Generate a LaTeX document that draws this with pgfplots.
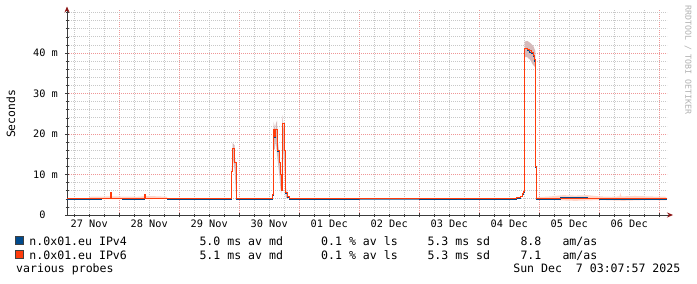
\documentclass[border=0pt]{standalone}
\usepackage{fontspec}
\setmainfont{DejaVu Sans Mono}
\usepackage{pgfplots}
\pgfplotsset{compat=1.18}
\usetikzlibrary{arrows.meta}
\definecolor{ipvfour}{RGB}{0,74,140}
\definecolor{ipvsix}{RGB}{255,60,12}
\definecolor{mgrid}{RGB}{240,150,150}
\definecolor{mingrid}{RGB}{200,200,200}
\definecolor{smoke}{RGB}{214,186,186}
\definecolor{smokeb}{RGB}{255,214,202}
\definecolor{axcol}{RGB}{60,60,60}
\definecolor{arrowcol}{RGB}{140,20,20}
\newcommand\legfont{\fontsize{11.6}{13}\selectfont}
\newcommand\tickfont{\fontsize{10.3}{12}\selectfont}
\begin{document}
\begin{tikzpicture}[x=1bp,y=1bp]
\fill[white] (0,0) rectangle (697,283);
\useasboundingbox (0,0) rectangle (697,283);
\begin{axis}[
  at={(67bp,68bp)}, anchor=south west,
  scale only axis, width=600bp, height=204.5bp,
  xmin=0.13, xmax=10.13, ymin=0, ymax=50.5,
  axis lines=left,
  axis line style={axcol, line width=1bp},
  x axis line style={-{Stealth[length=6bp,width=5bp,color=arrowcol]}, shorten >=-6bp},
  y axis line style={-{Stealth[length=6bp,width=5bp,color=arrowcol]}, shorten >=-4bp},
  tick align=center,
  major tick length=4bp, minor tick length=3bp,
  tick style={axcol, line width=0.6bp},
  xtick={1,2,3,4,5,6,7,8,9,10},
  xticklabels={},
  minor xtick={0.25,0.5,0.75,1.25,1.5,1.75,2.25,2.5,2.75,3.25,3.5,3.75,4.25,4.5,4.75,5.25,5.5,5.75,6.25,6.5,6.75,7.25,7.5,7.75,8.25,8.5,8.75,9.25,9.5,9.75,10.25},
  extra x ticks={0.5,1.5,2.5,3.5,4.5,5.5,6.5,7.5,8.5,9.5},
  extra x tick labels={27 Nov,28 Nov,29 Nov,30 Nov,01 Dec,02 Dec,03 Dec,04 Dec,05 Dec,06 Dec},
  extra x tick style={grid=none, major tick length=0pt,
    xticklabel style={font=\tickfont, anchor=base, inner sep=0pt, yshift=-12.7bp}},
  ytick={0,10,20,30,40},
  yticklabels={0\phantom{ m},10 m,20 m,30 m,40 m},
  yticklabel style={font=\tickfont, anchor=east, inner sep=0pt, xshift=-7bp},
  minor ytick={2,4,6,8,12,14,16,18,22,24,26,28,32,34,36,38,42,44,46,48,50},
  xmajorgrids, ymajorgrids, xminorgrids, yminorgrids,
  major grid style={mgrid, line width=0.8bp, dash pattern=on 1bp off 1bp},
  minor grid style={mingrid, line width=0.8bp, dash pattern=on 1bp off 1bp},
  clip=false,
]
% smoke
\addplot[fill=smokeb, draw=none] coordinates {
 (0.5,4.1) (0.5,4.5) (0.9,4.6) (1.3,4.5) (1.5,4.7) (1.8,4.5) (1.8,4.0) (1.3,3.9) (0.9,3.9) (0.5,3.9)} -- cycle;
\addplot[fill=smokeb, draw=none] coordinates {
 (7.97,3.9) (7.97,4.4) (8.2,4.6) (8.4,4.9) (8.6,4.8) (8.8,4.9) (9.0,4.6) (9.2,4.5) (9.34,4.6) (9.35,5.5) (9.37,4.6) (9.6,4.7) (9.8,4.6) (10.12,4.5)
 (10.12,3.6) (9.8,3.7) (9.4,3.5) (9.0,3.7) (8.6,3.5) (8.4,3.6) (8.2,3.8)} -- cycle;
\addplot[fill=smoke, draw=none] coordinates {
 (2.875,9.5) (2.875,11.5) (2.89,11.5) (2.89,17.8) (2.925,17.2) (2.925,14.0) (2.95,12.5)
 (2.95,4.5) (2.925,11.0) (2.89,14.5) (2.875,9.5)} -- cycle;
\addplot[fill=smoke, draw=none] coordinates {
 (3.572,17) (3.572,23) (3.59,22) (3.60,20.5) (3.61,22.5) (3.63,23.3) (3.645,18) (3.67,15) (3.685,12) (3.70,9) (3.72,9) (3.72,24.7) (3.752,20) (3.775,7) (3.80,5)
 (3.80,4) (3.775,4.5) (3.752,12) (3.72,19) (3.70,5) (3.685,7) (3.67,10) (3.645,13) (3.61,18) (3.59,16)} -- cycle;
\addplot[fill=smoke, draw=none] coordinates {
 (7.755,39.0) (7.755,42.8) (7.80,43.0) (7.85,42.5) (7.90,41.8) (7.935,40.5)
 (7.935,36.5) (7.90,37.0) (7.85,38.3) (7.80,39.0)} -- cycle;
% IPv4
\addplot[const plot, ipvfour, line width=0.9bp] coordinates {
 (0.13,3.95) (0.40,3.9) (0.70,4.0) (0.85,5.4) (0.875,4.0) (1.05,3.9) (1.42,4.9) (1.445,4.0)
 (1.8,3.95) (2.0,3.9) (2.5,3.95) (2.875,10.7) (2.89,16.4) (2.925,12.9) (2.95,3.9) (3.2,3.95)
 (3.555,4.9) (3.572,21.1) (3.592,19.2) (3.608,21.1) (3.64,15.8) (3.67,12.9) (3.685,9.9) (3.70,8.0)
 (3.72,22.6) (3.752,15.9) (3.775,5.4) (3.80,4.4) (3.83,3.9) (4.5,3.95) (5.5,3.95) (6.5,3.9)
 (7.4,3.95) (7.62,4.2) (7.68,4.5) (7.72,5.0) (7.74,5.5) (7.752,38.3) (7.758,41.1) (7.8,40.6)
 (7.84,40.2) (7.875,39.8) (7.9,39.1) (7.928,37.9) (7.945,11.8) (7.962,3.9) (8.35,4.32) (8.5,4.28)
 (8.8,4.0) (9.0,3.95) (9.5,3.9) (10.13,3.9)};
% IPv6
\addplot[const plot, ipvsix, line width=0.9bp] coordinates {
 (0.13,4.1) (0.40,4.0) (0.70,4.1) (0.85,5.5) (0.875,4.1) (1.05,4.0) (1.42,5.0) (1.445,4.15)
 (1.8,4.1) (2.0,4.05) (2.5,4.0) (2.875,10.8) (2.89,16.5) (2.925,13.0) (2.95,4.0) (3.2,4.0)
 (3.555,5.0) (3.572,21.2) (3.592,19.3) (3.608,21.2) (3.64,16.0) (3.67,13.0) (3.685,10.0) (3.70,6.0)
 (3.72,22.7) (3.752,16.0) (3.775,5.5) (3.80,4.5) (3.83,4.0) (4.5,4.0) (5.5,4.05) (6.5,4.0)
 (7.4,4.05) (7.62,4.3) (7.68,4.7) (7.72,5.2) (7.74,5.8) (7.752,38.5) (7.758,41.2) (7.8,40.8)
 (7.84,40.6) (7.875,40.2) (7.9,39.5) (7.928,38.3) (7.945,11.9) (7.962,4.0) (8.3,4.1) (9.0,4.05)
 (9.5,4.0) (10.13,4.0)};
\end{axis}
% axis title and watermark
\node[rotate=90, font=\fontsize{11.4}{13}\selectfont, inner sep=0pt] at (11,169) {Seconds};
\node[rotate=-90, anchor=west, font=\fontsize{8.3}{10}\selectfont, text=black!30, inner sep=0pt] at (688,278) {RRDTOOL / TOBI OETIKER};
% legend
\draw[black!75, line width=0.8bp, fill=ipvfour] (15.5,38.5) rectangle (23.5,46.5);
\draw[black!75, line width=0.8bp, fill=ipvsix] (15.5,24.2) rectangle (23.5,32.2);
\begin{scope}[every node/.style={anchor=base west, inner sep=0pt, font=\legfont}]
\node at (29.3,38) {n.0x01.eu IPv4};
\node at (199.3,38) {5.0 ms av md};
\node at (321,38) {0.1 \% av ls};
\node at (427.3,38) {5.3 ms sd};
\node at (520.3,38) {8.8};
\node at (562.3,38) {am/as};
\node at (29.3,23.7) {n.0x01.eu IPv6};
\node at (199.3,23.7) {5.1 ms av md};
\node at (321,23.7) {0.1 \% av ls};
\node at (427.3,23.7) {5.3 ms sd};
\node at (520.3,23.7) {7.1};
\node at (562.3,23.7) {am/as};
\node at (16,10.7) {various probes};
\end{scope}
\node[anchor=base east, inner sep=0pt, font=\legfont] at (680.5,10.7) {Sun Dec~~7 03:07:57 2025};
\end{tikzpicture}
\end{document}
